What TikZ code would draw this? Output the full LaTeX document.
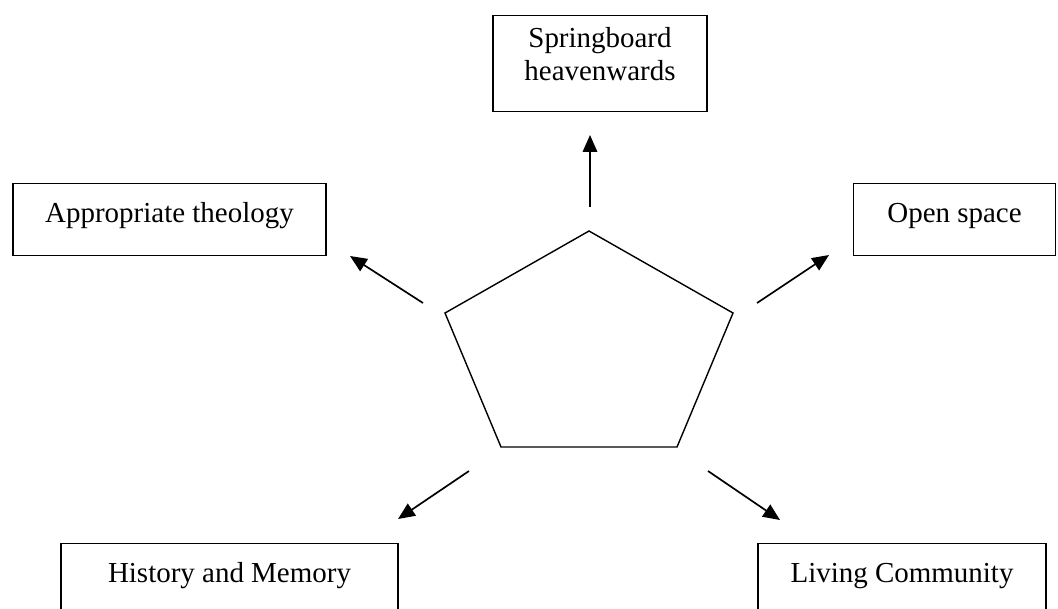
\documentclass[tikz,border=0pt]{standalone}
\usepackage{fontspec}
\setmainfont{Liberation Serif}
\usetikzlibrary{arrows.meta}

\begin{document}
\begin{tikzpicture}[x=0.025cm, y=-0.025cm,
  itembox/.style={draw, line width=1pt, inner xsep=0pt, inner ysep=0pt, anchor=north, align=center, font=\fontsize{20.6}{23.5}\selectfont},
  pointer/.style={-{Triangle[length=0.42cm, width=0.36cm]}, line width=1.2pt}]
\clip (0,0) rectangle (1058,608);

% The five aspects round the centre
\node[itembox, minimum width=5.35cm, text height=1.625cm, text depth=0.775cm] (spring) at (600,15) {Springboard\\heavenwards};
\node[itembox, minimum width=7.825cm, text height=0.975cm, text depth=0.825cm] (theology) at (169.5,183) {Appropriate theology};
\node[itembox, minimum width=5.05cm, text height=0.975cm, text depth=0.825cm] (open) at (954.5,183) {Open space};
\node[itembox, minimum width=8.425cm, text height=0.97cm, text depth=0.83cm] (history) at (229.5,543) {History and Memory};
\node[itembox, minimum width=7.2cm, text height=0.97cm, text depth=0.83cm] (living) at (902,543) {Living Community};

% Pentagon in the middle
\draw[line width=1pt, line join=miter] (589,231) -- (733,313) -- (677,447) -- (501,447) -- (445,313) -- cycle;

% Arrow ends
\coordinate (springtail) at (590,207);
\coordinate (springtip) at (590,135);
\coordinate (theologytail) at (423,303);
\coordinate (theologytip) at (350,256);
\coordinate (opentail) at (757,303);
\coordinate (opentip) at (829,255);
\coordinate (historytail) at (469,471);
\coordinate (historytip) at (398,519);
\coordinate (livingtail) at (708,471);
\coordinate (livingtip) at (780,520);

% Arrows out of the pentagon
\draw[pointer] (springtail) -- (springtip);
\draw[pointer] (theologytail) -- (theologytip);
\draw[pointer] (opentail) -- (opentip);
\draw[pointer] (historytail) -- (historytip);
\draw[pointer] (livingtail) -- (livingtip);
\end{tikzpicture}
\end{document}
